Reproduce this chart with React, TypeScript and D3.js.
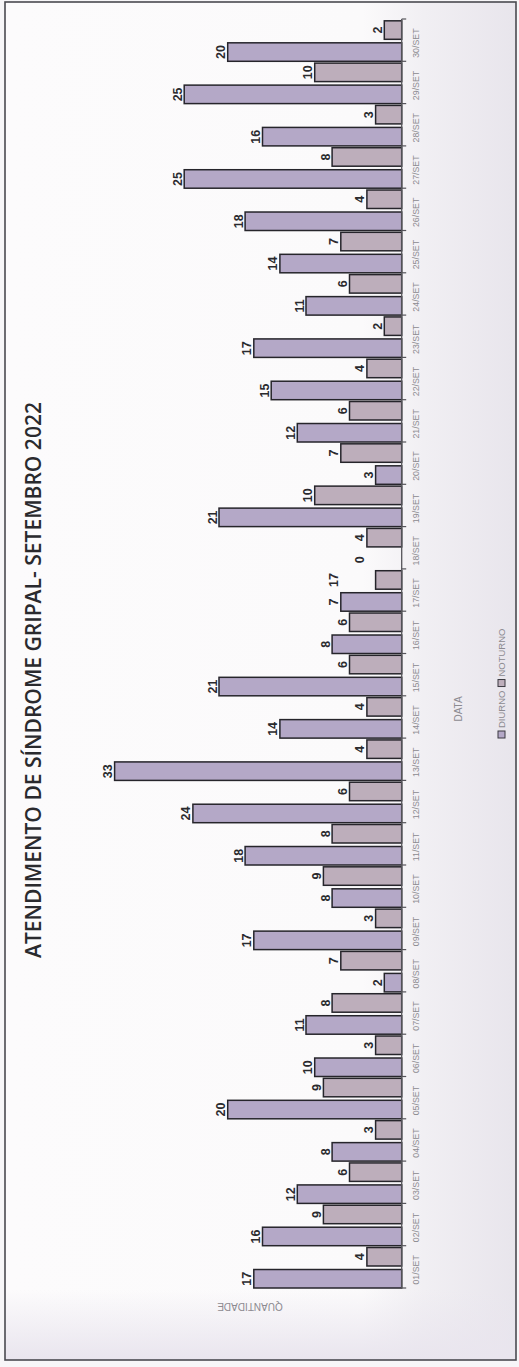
import React from 'react';
import * as d3 from 'd3';

const DAYS = [
  '01/SET', '02/SET', '03/SET', '04/SET', '05/SET', '06/SET', '07/SET', '08/SET', '09/SET', '10/SET',
  '11/SET', '12/SET', '13/SET', '14/SET', '15/SET', '16/SET', '17/SET', '18/SET', '19/SET', '20/SET',
  '21/SET', '22/SET', '23/SET', '24/SET', '25/SET', '26/SET', '27/SET', '28/SET', '29/SET', '30/SET',
];
const SERIES = ['DIURNO', 'NOTURNO'];
const DIURNO = [17, 16, 12, 8, 20, 10, 11, 2, 17, 8, 18, 24, 33, 14, 21, 8, 7, 0, 21, 3, 12, 15, 17, 11, 14, 18, 25, 16, 25, 20];
const NOTURNO = [4, 9, 6, 3, 9, 3, 8, 7, 3, 9, 8, 6, 4, 4, 6, 6, 3, 4, 10, 7, 6, 4, 2, 6, 7, 4, 8, 3, 10, 2];
// labels as printed on the original where they differ from the bar (text, level where printed)
const LABEL_OVERRIDES = [
  { day: '17/SET', series: 'NOTURNO', text: '17', at: 7 },
  { day: '18/SET', series: 'DIURNO', text: '0', at: 4 },
];
const TITLE = 'ATENDIMENTO DE SÍNDROME GRIPAL- SETEMBRO 2022';
const X_TITLE = 'DATA';
const Y_TITLE = 'QUANTIDADE';
const Y_MAX = 35;

const W = 1367; // unrotated width
const COLORS: Record<string, string> = { DIURNO: '#b4a8c7', NOTURNO: '#bdaebb' };

export default function App() {
  const x = d3.scaleBand<string>().domain(DAYS).range([79, 1348]).padding(0);
  const inner = d3
    .scaleBand<string>()
    .domain(SERIES)
    .range([0, x.bandwidth() * 0.957])
    .paddingInner(0.16);
  const y = d3.scaleLinear().domain([0, Y_MAX]).range([401.7, 97.2]);
  const base = y(0);
  const values: Record<string, number[]> = { DIURNO, NOTURNO };

  const bars: any[] = [];
  DAYS.forEach((d, i) => {
    SERIES.forEach((s) => {
      const v = values[s][i];
      const ov = LABEL_OVERRIDES.find((o) => o.day === d && o.series === s);
      bars.push({
        key: d + s,
        x: (x(d) as number) + (inner(s) as number),
        w: inner.bandwidth(),
        y: y(v),
        h: base - y(v),
        s,
        text: ov ? ov.text : String(v),
        ly: y(ov ? ov.at : v) - 2.5,
      });
    });
  });

  const tickPos = [...DAYS.map((d) => x(d) as number), 1348];
  const legendFont = 9.5;
  const legendStart = 629;
  const diurnoW = 3.944 * legendFont;

  return (
    <svg
      width={519}
      height={1367}
      style={{ position: 'absolute', left: 0, top: 0, display: 'block' }}
      xmlns="http://www.w3.org/2000/svg"
    >
      <defs>
        <linearGradient id="bg" x1="0" y1="0" x2="1" y2="0">
          <stop offset="0" stopColor="#fcfbfc" />
          <stop offset="0.7" stopColor="#fbfafb" />
          <stop offset="0.82" stopColor="#f1eff3" />
          <stop offset="1" stopColor="#e8e5ec" />
        </linearGradient>
        <linearGradient id="bgb" x1="0" y1="0" x2="0" y2="1">
          <stop offset="0" stopColor="#e9e5ee" stopOpacity="0" />
          <stop offset="1" stopColor="#e9e5ee" stopOpacity="1" />
        </linearGradient>
      </defs>
      <rect x={0} y={0} width={519} height={1367} fill="#f7f6f8" />
      <rect x={5} y={2} width={511} height={1358} fill="url(#bg)" />
      <rect x={5} y={1290} width={511} height={70} fill="url(#bgb)" />
      <rect x={5} y={2} width={511} height={1358} fill="none" stroke="#4a4a50" strokeWidth={1.6} />

      <g transform={`translate(0,${W}) rotate(-90)`}>
        <text
          x={687}
          y={41}
          textAnchor="middle"
          fontFamily="'Open Sans', sans-serif"
          fontWeight={600}
          fontSize={21}
          fill="#2a2a2e"
          textLength={556}
          lengthAdjust="spacingAndGlyphs"
        >
          {TITLE}
        </text>

        {bars.map((b) => (
          <rect
            key={b.key}
            x={b.x}
            y={b.y}
            width={b.w}
            height={b.h}
            fill={COLORS[b.s]}
            stroke="#26252b"
            strokeWidth={1.5}
          />
        ))}

        {bars.map((b) => (
          <text
            key={'l' + b.key}
            x={b.x + b.w / 2}
            y={b.ly}
            textAnchor="middle"
            fontFamily="'Liberation Sans', Arial, sans-serif"
            fontWeight={700}
            fontSize={12.5}
            fill="#2a2a2e"
          >
            {b.text}
          </text>
        ))}

        <line x1={79} x2={1348} y1={base} y2={base} stroke="#55545a" strokeWidth={1.3} />
        {tickPos.map((t, i) => (
          <line key={'t' + i} x1={t} x2={t} y1={base} y2={base + 4.5} stroke="#55545a" strokeWidth={1.2} />
        ))}
        {DAYS.map((d) => (
          <text
            key={'x' + d}
            x={(x(d) as number) + x.bandwidth() / 2 - 3}
            y={418.5}
            textAnchor="middle"
            fontFamily="'Liberation Sans', Arial, sans-serif"
            fontSize={8.8}
            fill="#8c8a90"
          >
            {d}
          </text>
        ))}

        <text
          x={658}
          y={462}
          textAnchor="middle"
          fontFamily="'Liberation Sans', Arial, sans-serif"
          fontSize={10}
          fill="#8c8a90"
        >
          {X_TITLE}
        </text>

        <text
          transform={`translate(64,250) rotate(-90)`}
          textAnchor="middle"
          fontFamily="'Liberation Sans', Arial, sans-serif"
          fontSize={10}
          fill="#8c8a90"
        >
          {Y_TITLE}
        </text>

        <g>
          <rect x={legendStart} y={498} width={7} height={7} fill={COLORS.DIURNO} stroke="#3a3940" strokeWidth={1} />
          <text
            x={legendStart + 10}
            y={505}
            fontFamily="'Liberation Sans', Arial, sans-serif"
            fontSize={legendFont}
            fill="#8c8a90"
          >
            {SERIES[0]}
          </text>
          <rect
            x={legendStart + 14 + diurnoW}
            y={498}
            width={7}
            height={7}
            fill={COLORS.NOTURNO}
            stroke="#3a3940"
            strokeWidth={1}
          />
          <text
            x={legendStart + 24 + diurnoW}
            y={505}
            fontFamily="'Liberation Sans', Arial, sans-serif"
            fontSize={legendFont}
            fill="#8c8a90"
          >
            {SERIES[1]}
          </text>
        </g>
      </g>
    </svg>
  );
}
